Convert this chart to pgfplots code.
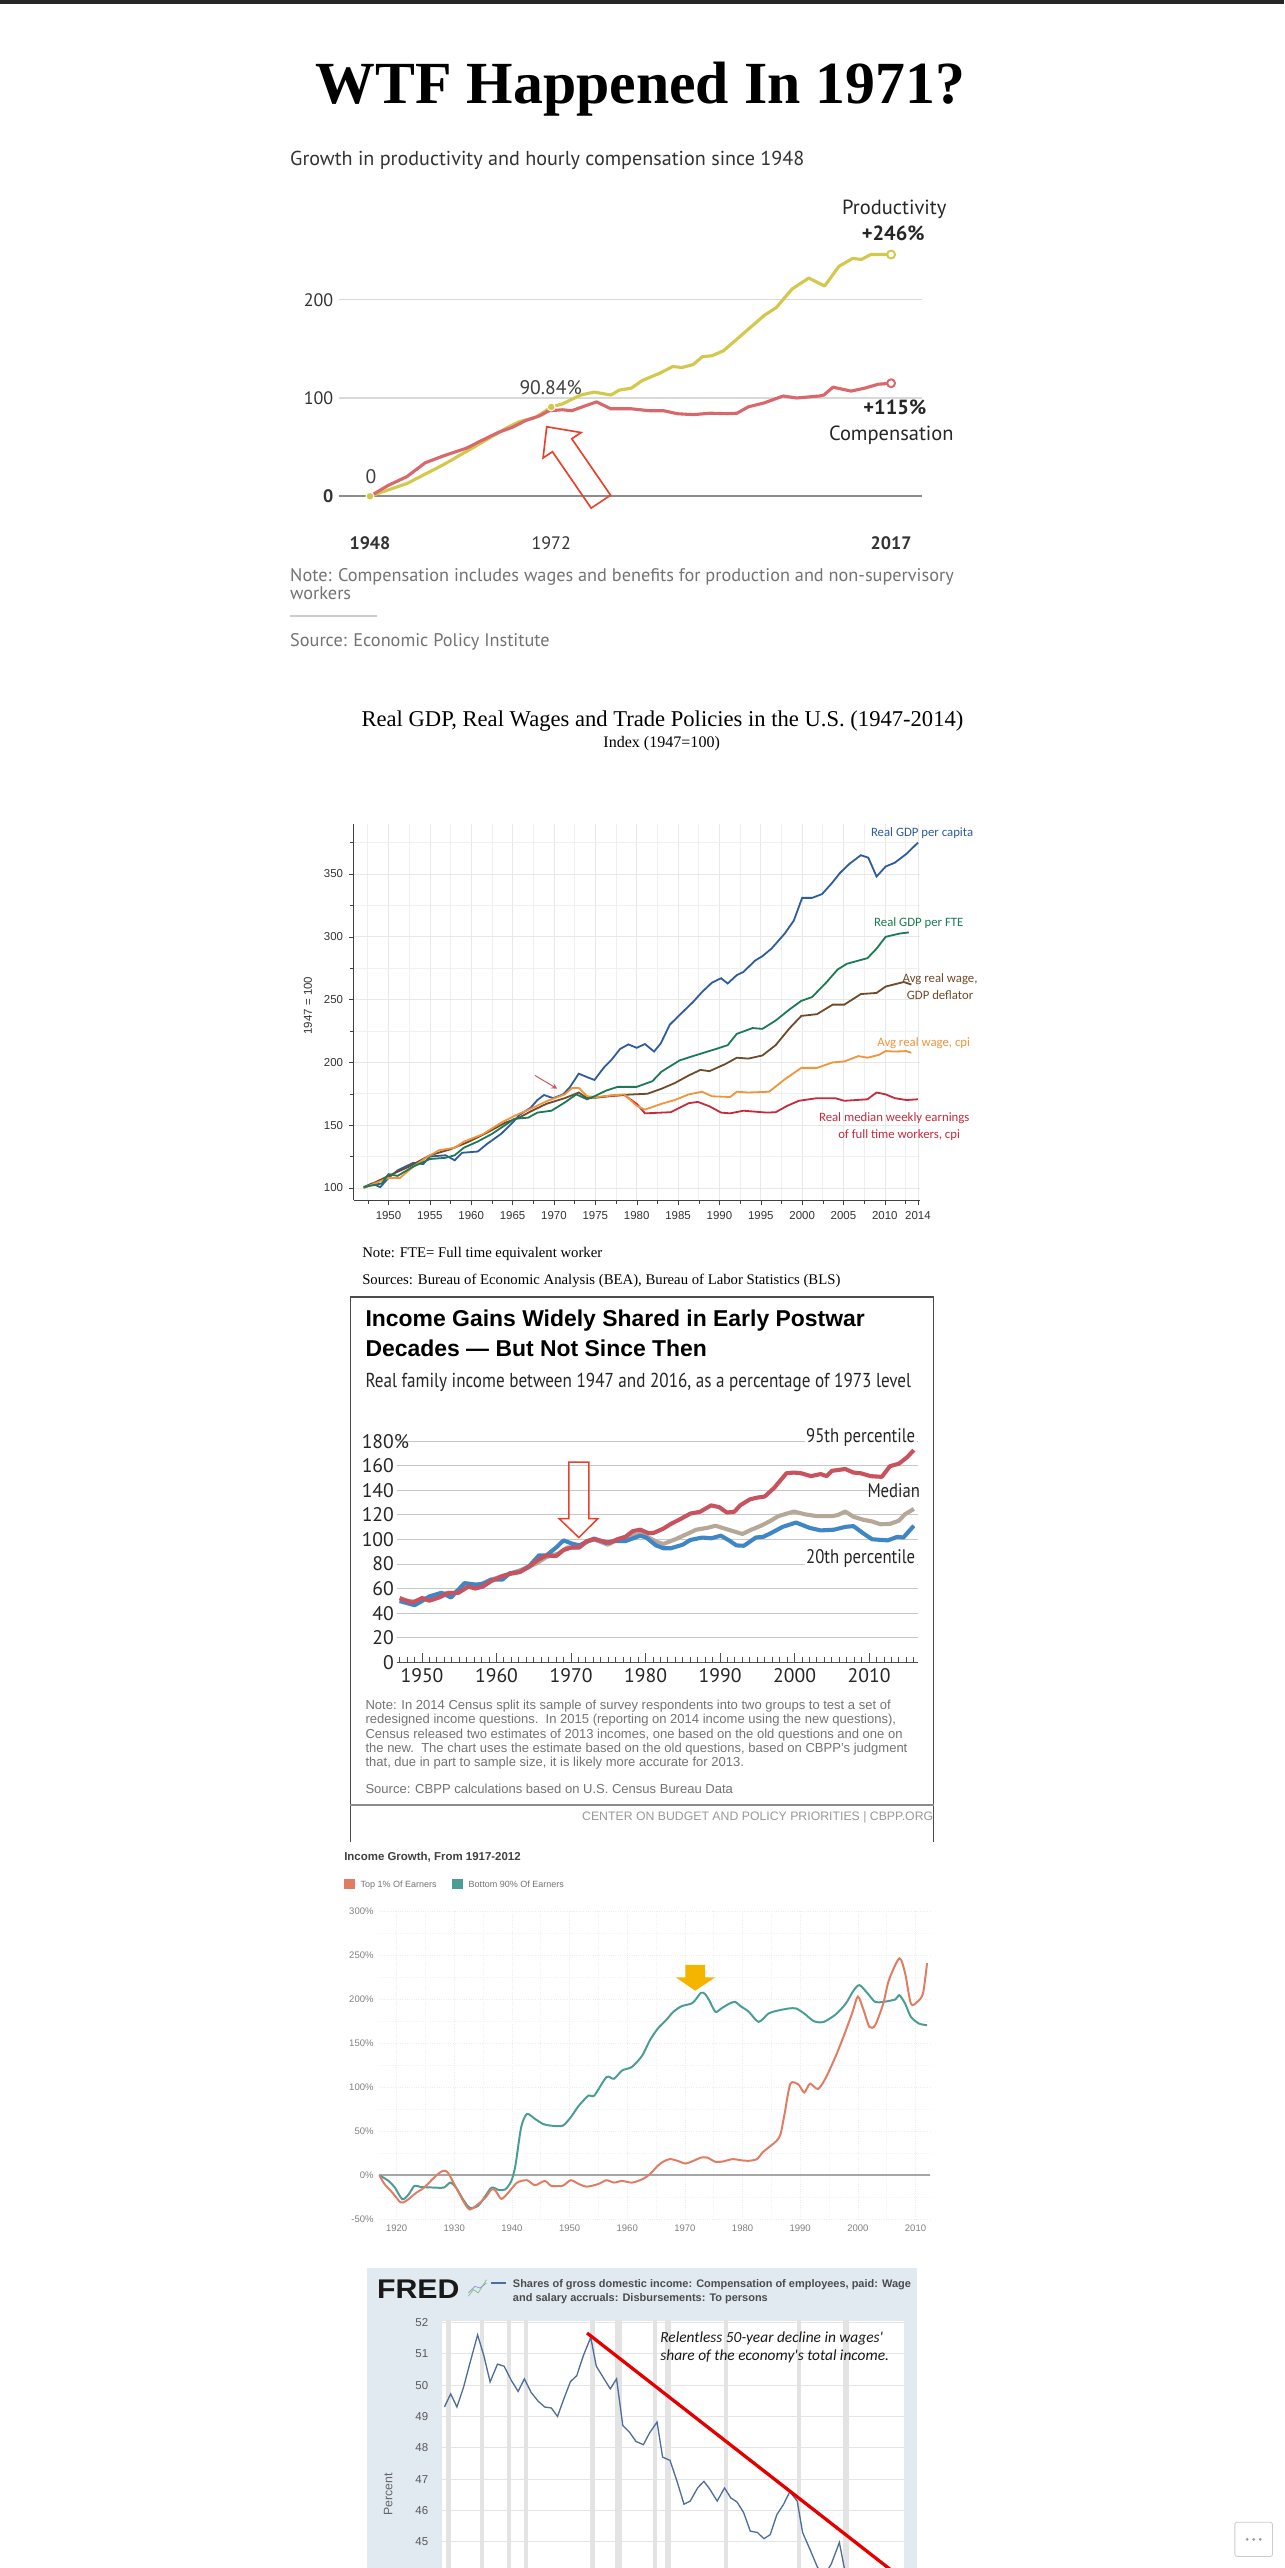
\documentclass[border=0pt]{standalone}
\usepackage{pgfplots}
\pgfplotsset{compat=1.18}
\usepackage{fontspec}
\setmainfont{Liberation Sans}
\newfontfamily\tms{Liberation Serif}
\newfontfamily\pts{PT Sans}
\newfontfamily\ptn[FakeStretch=0.85]{PT Sans}
\newfontfamily\carl{Carlito}
\newcommand\fs[1]{\fontsize{#1}{#1}\selectfont}
\pgfplotsset{/pgf/number format/1000 sep={}, /pgf/number format/assume math mode=true}

\definecolor{prod}{HTML}{D3C84B}
\definecolor{comp}{HTML}{D9686C}
\definecolor{gblue}{HTML}{2F5C9E}
\definecolor{ggreen}{HTML}{1C7A56}
\definecolor{gbrown}{HTML}{6E4B2A}
\definecolor{gorange}{HTML}{F2943C}
\definecolor{gred}{HTML}{C62A3D}
\definecolor{pred}{HTML}{C9525F}
\definecolor{ptan}{HTML}{B5A898}
\definecolor{pblue}{HTML}{3E86C6}
\definecolor{iorange}{HTML}{E17C63}
\definecolor{iteal}{HTML}{4A9D96}
\definecolor{fredline}{HTML}{4F6D9A}
\definecolor{fredbg}{HTML}{E1E9F1}
\definecolor{fredbar}{HTML}{E3E3E3}
\definecolor{arrowred}{HTML}{E8402A}
\definecolor{gold}{HTML}{F5B400}

\begin{document}
\begin{tikzpicture}
\fill[white] (0pt,0pt) rectangle (784pt,-1568pt);
\fill[black!85] (0pt,0pt) rectangle (784pt,-2.5pt);

% ---------- chart 1: productivity vs compensation
\begin{axis}[at={(207pt,-315pt)}, anchor=south west, scale only axis,
  width=356pt, height=168pt, xmin=1943.9, xmax=2021.1, ymin=-20, ymax=260,
  axis line style={draw=none}, major tick length=0pt, minor tick length=0pt,
  ytick={0,100,200}, yticklabels={\textbf{0},100,200},
  xtick={1948,1972,2017}, xticklabels={\textbf{1948},1972,\textbf{2017}},
  ymajorgrids, grid style={draw=black!15, line width=0.8pt},
  tick label style={font=\pts\fs{11}, text=black!80},
  xticklabel style={yshift=-9pt},
  clip=false]
\draw[black!45, line width=1pt] (axis cs:1943.9,0) -- (axis cs:2021.1,0);
\addplot[draw=prod, line width=1.9pt, line join=round] coordinates {
 (1948,0)(1952.9,13)(1957.7,32)(1962,51)(1966.2,70)(1967.8,76)(1969.9,80)(1972,90.84)
 (1973.5,94)(1975.9,103)(1977.7,106)(1979.9,103)(1981,108)(1982.6,110)(1984.1,118)
 (1986.3,125)(1988.1,132)(1989.3,131)(1990.8,134)(1992,142)(1993.3,143)(1994.8,148)
 (1996.6,160)(1998.4,172)(2000.2,184)(2001.8,192)(2003.9,211)(2006.1,222)(2008.2,214)
 (2010.1,234)(2011.9,242)(2013.1,241)(2014.3,246)(2015.5,246)(2017,246)};
\addplot[draw=comp, line width=1.9pt, line join=round] coordinates {
 (1948,0)(1950.4,11)(1952.9,20)(1955.3,34)(1957.7,41)(1960.8,49)(1962.6,56)(1965,65)
 (1966.8,70)(1968.6,77)(1970.5,82)(1971.7,87)(1973.5,88)(1974.7,87)(1976.5,92)(1978,96)
 (1979.9,89)(1982.6,89)(1985,87)(1986.9,87)(1988.7,84)(1990.8,83)(1993,84.5)(1995.4,84)
 (1996.6,84.5)(1998.1,91)(2000.2,95)(2002.7,102)(2004.5,100)(2007.5,102)(2008.1,103)
 (2009.3,111)(2011.7,107)(2013.5,110)(2015.3,114)(2017,115)};
\addplot[only marks, mark=*, mark size=2.4pt, mark options={fill=prod, draw=white, line width=0.6pt}]
 coordinates {(1948,0)(1972,90.84)};
\addplot[only marks, mark=*, mark size=2.4pt, mark options={fill=white, draw=prod, line width=1.2pt}]
 coordinates {(2017,246)};
\addplot[only marks, mark=*, mark size=2.4pt, mark options={fill=white, draw=comp, line width=1.2pt}]
 coordinates {(2017,115)};
\draw[arrowred, line width=1pt, line join=miter]
 (axis cs:1971.40,70.69) -- (axis cs:1975.96,64.83) -- (axis cs:1974.72,58.48)
 -- (axis cs:1979.86,1.07) -- (axis cs:1977.29,-12.10) -- (axis cs:1972.16,45.31)
 -- (axis cs:1970.92,38.97) -- cycle;
\end{axis}

% ---------- chart 2: real GDP and wages
\begin{axis}[at={(216pt,-733pt)}, anchor=south west, scale only axis,
  width=346pt, height=230pt, xmin=1945.8, xmax=2014.3, ymin=90, ymax=390,
  axis lines*=left, axis line style={black!75, line width=0.6pt},
  xtick={1950,1955,...,2010,2014}, ytick={100,150,...,350},
  minor xtick={1947.5,1952.5,...,2012.5}, minor ytick={125,175,...,375},
  grid=both, major grid style={black!9}, minor grid style={black!6},
  tick align=outside, major tick length=3pt, minor tick length=2pt,
  tick style={black!75},
  tick label style={font=\fs{7}, text=black!80},
  clip=false]
\addplot[draw=gred, line width=1.1pt] coordinates {
 (1975,172)(1978.5,174)(1980,167)(1981,159.4)(1984.1,160.3)(1986.3,167.5)(1987.4,168.5)
 (1988.8,165)(1990.2,160)(1991.3,159.4)(1992.9,161.5)(1995.7,160)(1996.8,160.3)(1998.2,165.4)
 (1999.6,169.4)(2001.8,171.5)(2004,171.5)(2005.1,169.4)(2006.5,170)(2007.9,170.6)(2009,176)
 (2010.1,174.5)(2011.2,171.5)(2012.6,170)(2014,170.6)};
\addplot[draw=gblue, line width=1.1pt] coordinates {
 (1947,100.6)(1948,103.6)(1949,100.6)(1950,108)(1951.1,114)(1953,120)(1954.2,119)(1955,125)
 (1956.9,126)(1958,122)(1958.9,128)(1960.8,129)(1961.9,135)(1963.6,143)(1965,152)(1965.8,158)
 (1967.2,164)(1968,170)(1968.8,174)(1969.9,171.5)(1971.1,174.5)(1971.9,180)(1973,191)
 (1974.1,188)(1974.9,186)(1976,195.6)(1976.9,201.6)(1978,210.7)(1979,214.3)(1980,211.6)
 (1981,214.6)(1982.1,208.6)(1982.9,215)(1984,230)(1985.2,237.8)(1986.8,248)(1987.9,256)
 (1989.1,263.5)(1990.2,267)(1991,262.8)(1992.1,269.5)(1992.9,272)(1994.3,281)(1995.2,284.6)
 (1996.3,290.6)(1997.9,302.6)(1999,313)(2000,331)(2001.2,331)(2002.4,334)(2003.5,342)
 (2004.6,351)(2005.7,358)(2007.1,365)(2008,363)(2009,348)(2010.1,356)(2011.2,359)
 (2012.6,366)(2014,375)};
\addplot[draw=gbrown, line width=1.1pt] coordinates {
 (1947,100)(1950,109.6)(1952.5,117)(1955,126)(1957.5,130.8)(1959.7,136.8)(1961.9,144)
 (1964.1,151.9)(1965.8,156)(1967.2,161)(1969.1,167)(1971.3,171.5)(1973,176)(1974,171.5)
 (1975.2,172)(1976.9,173.6)(1979.6,174.5)(1981.3,175)(1983,179)(1984.6,183.5)(1986.3,189.6)
 (1987.7,194)(1988.8,193)(1990.7,198.6)(1992.1,203.7)(1993.5,203)(1995.2,205.5)(1996.8,213.7)
 (1998.5,227.3)(1999.9,237)(2001.8,238.4)(2003.7,246)(2005.1,246)(2007.1,254.4)(2009,255.3)
 (2010.1,260.4)(2012.3,264)(2013.2,262)};
\addplot[draw=gorange, line width=1.1pt] coordinates {
 (1947,100)(1950,108)(1951.4,108)(1953,117)(1954.7,124.7)(1956.1,130)(1958,132)(1959.1,136.8)
 (1961.4,142.8)(1963.6,151.9)(1965.2,157.3)(1967.5,164)(1969.1,169)(1971.3,174.5)(1972.2,179.6)
 (1973,179.6)(1974,173)(1975.2,172.4)(1976.9,173.6)(1978.5,174.5)(1980,165.4)(1981,162.4)
 (1983,167)(1984.6,170)(1986.3,174.5)(1987.9,176.6)(1989.1,173)(1991.3,172.4)(1992.1,176.6)
 (1993.5,176)(1996,176.6)(1997.9,186.5)(1999.9,195.6)(2001.8,195.6)(2003.7,200)(2005.1,200.7)
 (2006.8,205)(2007.9,203.7)(2009.3,206)(2010.1,209)(2011.2,208.6)(2012.6,209)(2013.2,207.6)};
\addplot[draw=ggreen, line width=1.1pt] coordinates {
 (1947,100.6)(1949.2,103.6)(1950,111)(1951.1,109.6)(1953,117)(1955,123)(1956.9,124)(1958,126)
 (1959.1,132)(1960.8,137)(1962.5,143)(1964.1,150)(1965.2,155)(1966.9,156)(1968,160)
 (1969.7,161.5)(1971.3,168)(1972.7,174.5)(1974,170.6)(1974.9,173)(1976.3,177.5)(1977.7,180.5)
 (1980,180.5)(1981.9,185)(1983,192.6)(1985.2,201.6)(1986.8,205)(1989.6,210.7)(1991,213.7)
 (1992.1,222.7)(1994,227.3)(1995.2,226.7)(1996.8,233.3)(1998.5,242.3)(1999.9,249)(2001.2,252)
 (2002.9,263.5)(2004.3,274)(2005.4,278.5)(2007.9,283)(2009,290.6)(2010.1,300)(2011.8,302.6)
 (2012.9,303.5)};
\draw[-stealth, gred!80, line width=0.6pt] (axis cs:1967.7,189.6) -- (axis cs:1970.4,179);
\end{axis}

% ---------- chart 3: family income percentiles
\begin{axis}[at={(242.2pt,-1015pt)}, anchor=south west, scale only axis,
  width=318.5pt, height=135pt, xmin=1946.6, xmax=2016.6, ymin=0, ymax=180,
  axis line style={draw=none}, tick pos=left,
  ytick={0,20,...,180}, yticklabels={0,20,40,60,80,100,120,140,160,180\rlap{\%}},
  ytick style={draw=none},
  xtick={1950,1960,...,2010}, minor xtick={1947,1948,...,2016},
  xtick align=inside, major tick length=6pt, minor tick length=3pt,
  xtick style={black!70, line width=0.6pt},
  ymajorgrids, grid style={black!22, line width=0.6pt},
  yticklabel style={inner sep=1.5pt},
  tick label style={font=\pts\fs{12}, text=black!85},
  clip=false]
\draw[black!70, line width=0.8pt] (axis cs:1946.6,0) -- (axis cs:2016.6,0);
\addplot[draw=ptan, line width=2.5pt, line join=round] coordinates {
 (1947,50.8)(1949,49.4)(1950,51.7)(1952,53.7)(1953.3,56.6)(1954.1,55.7)(1955.7,62.1)(1957.2,61.8)
 (1959.3,67.4)(1961.3,71.1)(1963.4,75.5)(1965.4,80.7)(1966.7,85.7)(1968.3,88.6)(1969.5,93.5)
 (1971.1,93.8)(1972.1,98.1)(1973.1,100.2)(1974.9,95.8)(1976.2,99.6)(1977.8,103.1)(1979.3,104.5)
 (1980.4,101.6)(1981.6,97.9)(1982.4,96.4)(1984,100.2)(1985.8,105.1)(1986.8,108)(1988.3,109.5)
 (1989.4,111.2)(1990.6,108.9)(1993,104.5)(1994.2,108)(1995.5,111.2)(1996.8,115.3)(1997.8,119)
 (1999.9,122.8)(2001.4,120.5)(2003,119)(2005,119)(2005.8,119.9)(2006.8,122.8)(2007.9,118.5)
 (2009.2,116.1)(2010.4,114.7)(2011.5,112.4)(2012.8,112.7)(2014,115.3)(2014.8,120.5)(2016,124.9)};
\addplot[draw=pblue, line width=2.5pt, line join=round] coordinates {
 (1947,49.9)(1949,46.5)(1950,49.9)(1951,53.7)(1952.6,56.6)(1953.9,52.8)(1955.7,64.5)(1957.2,63.3)
 (1958.2,63.9)(1959.3,67.4)(1960.8,67.4)(1961.8,72.6)(1963.1,73.5)(1964.4,78.4)(1965.7,87.1)
 (1966.7,87.1)(1968,93.5)(1969,99.3)(1970.1,96.7)(1971.1,95.2)(1972.1,98.1)(1973.1,100.8)
 (1974.7,97.3)(1975.7,98.7)(1977.3,98.7)(1979.3,103.1)(1980.1,101.6)(1981.4,95.2)(1982.4,92.9)
 (1983.4,92.9)(1985,95.8)(1986,99.6)(1987.6,101.6)(1988.8,101)(1990.1,103.1)(1991.2,99.3)
 (1992.2,95.2)(1993.2,94.9)(1994.8,101.6)(1995.8,102.2)(1996.8,105.1)(1998.4,110.3)(2000.2,113.8)
 (2002,109.5)(2003.5,107.4)(2005.3,108)(2006.8,110.3)(2007.9,110.9)(2009.2,105.1)(2010.4,100.2)
 (2012.5,99.3)(2013.8,102.2)(2014.6,101.6)(2016,111.2)};
\addplot[draw=pred, line width=2.5pt, line join=round] coordinates {
 (1947,52.3)(1948.7,48.5)(1950,52.3)(1951,50.2)(1952.3,52.8)(1953.6,56.6)(1954.9,56.6)(1956.2,61.6)
 (1957.2,60.1)(1958.2,61.8)(1959.3,66.2)(1960.8,70.3)(1961.8,72)(1963.1,73.5)(1964.4,77.8)
 (1965.4,82.8)(1966.7,87.1)(1968,86.5)(1969,91.5)(1970.1,93.5)(1971.1,93.5)(1972.1,98.7)
 (1973.1,100.2)(1974.2,98.7)(1975.2,97.3)(1976.2,100.2)(1977.3,102.2)(1978.3,106.9)(1979.3,108)
 (1980.4,105.1)(1981.1,105.4)(1982.4,108.9)(1983.4,112.7)(1984.7,116.7)(1986,121.1)(1987.3,122.5)
 (1988.8,127.8)(1989.9,126.3)(1990.9,122)(1991.9,122.5)(1992.7,127.8)(1994,132.7)(1995,134.1)
 (1996,135)(1997.3,142.3)(1998.9,153.9)(1999.9,154.5)(2000.9,153.9)(2002.2,151.6)(2003.5,153.3)
 (2004.3,151.6)(2005,155.9)(2006.8,157.4)(2007.9,154.5)(2008.9,153.9)(2010.2,151.6)(2011.7,151)
 (2012.8,159.7)(2014,161.7)(2015.1,167)(2016,172.8)};
\draw[arrowred, line width=0.9pt]
 (axis cs:1969.7,163) -- (axis cs:1972.4,163) -- (axis cs:1972.4,117) -- (axis cs:1973.6,117)
 -- (axis cs:1971.05,101.6) -- (axis cs:1968.4,117) -- (axis cs:1969.7,117) -- cycle;
\end{axis}

% ---------- chart 4: top 1% vs bottom 90%
\begin{axis}[at={(231.6pt,-1355pt)}, anchor=south west, scale only axis,
  width=336.2pt, height=188pt, xmin=1917, xmax=2012.5, ymin=-50, ymax=300,
  axis line style={draw=none}, major tick length=0pt, minor tick length=0pt,
  xtick={1920,1930,...,2010}, ytick={-50,0,...,300},
  yticklabels={-50\%,0\%,50\%,100\%,150\%,200\%,250\%,300\%},
  minor xtick={1915,1925,...,2015}, minor ytick={-25,25,...,275},
  grid=both, major grid style={black!7, densely dotted}, minor grid style={black!5, densely dotted},
  tick label style={font=\fs{5.8}, text=black!50},
  clip=false]
\draw[black!35, line width=0.9pt] (axis cs:1917,0) -- (axis cs:2012.5,0);
\addplot[draw=iteal, line width=1.2pt, smooth, tension=0.45] coordinates {
 (1917,0)(1918.6,-6.5)(1919.7,-14)(1921,-27.4)(1922.1,-21.7)(1923.1,-12)(1924.1,-13.3)(1926.2,-14)
 (1928.2,-14)(1929.3,-8.4)(1930.3,-14)(1931.7,-29.3)(1932.7,-37)(1934.1,-35)(1935.4,-23.6)
 (1936.5,-14)(1937.8,-17)(1938.9,-16)(1939.9,-6.5)(1940.6,10.7)(1941.6,54.4)(1942.6,69.6)
 (1944,64)(1945.4,58.2)(1946.8,56.3)(1948.8,56.3)(1950.2,65.8)(1951.6,79)(1953.3,90.6)
 (1954.3,90.6)(1956.4,111.5)(1957.7,109.6)(1959.1,119)(1960.8,123)(1962.6,136)(1963.9,153)
 (1965.3,166.7)(1966.7,176)(1968,185.7)(1969.4,192)(1971.1,195)(1971.8,199)(1972.8,207.4)
 (1973.5,206)(1974.2,199)(1975.3,185.7)(1976.3,189.5)(1977.7,195)(1978.7,197)(1979.7,192)
 (1981.1,185.7)(1982.8,174.3)(1984.5,183.8)(1985.9,186.8)(1988,189.5)(1989.3,189.5)(1990.7,183.8)
 (1992.4,175)(1994.1,174.3)(1996.2,183)(1997.9,195)(1999.3,210.4)(2000.3,216)(2001.7,206.6)
 (2003,197)(2004.4,197)(2006.5,199.8)(2007.2,204.7)(2008.2,195)(2009.2,180)(2010.6,172.4)
 (2012,170.5)};
\addplot[draw=iorange, line width=1.2pt, smooth, tension=0.45] coordinates {
 (1917,0)(1917.9,-10)(1919.3,-20)(1920.7,-31)(1921.7,-29)(1923.4,-20)(1924.8,-14)(1926.2,-4.6)
 (1927.5,3)(1928.2,5)(1928.9,3)(1930.3,-14)(1931.7,-31)(1932.7,-39)(1934.1,-33)(1935.4,-25.5)
 (1936.5,-16)(1937.2,-18)(1938.2,-27)(1939.6,-18)(1940.9,-8.4)(1942.6,-5.7)(1944,-11.4)
 (1945.7,-6.5)(1946.8,-12)(1948.8,-12)(1950.2,-5.7)(1951.6,-10)(1953,-13)(1955,-10)(1956.4,-5.7)
 (1957.7,-8.4)(1959.1,-6.5)(1960.8,-8.4)(1962.6,-4.6)(1963.9,1)(1965.3,10.7)(1966.3,15.6)
 (1967.4,18.3)(1968.7,16.4)(1970.1,13.3)(1971.5,16.4)(1972.8,20)(1973.9,20)(1975.3,15.2)
 (1976.6,15.6)(1978.3,18.3)(1979.7,17)(1981.1,16.4)(1982.5,18.3)(1983.5,26)(1984.9,33.5)
 (1985.9,39)(1986.6,47)(1987.3,70)(1988.3,104)(1989.7,103)(1990.7,94)(1991.7,104)(1993.1,98)
 (1994.5,111.5)(1996.2,136)(1997.6,159)(1999,184)(2000,203)(2001,187.6)(2002,168.6)(2003,170.5)
 (2004.4,195)(2005.4,222)(2007.2,246.5)(2008.2,229.5)(2009.2,195)(2010.3,197)(2011.3,206.6)
 (2012,241)};
\fill[gold] (axis cs:1970.1,239) -- (axis cs:1973.5,239) -- (axis cs:1973.5,225) -- (axis cs:1975.3,225)
 -- (axis cs:1971.8,209.7) -- (axis cs:1968.4,225) -- (axis cs:1970.1,225) -- cycle;
\end{axis}

% ---------- chart 5: FRED wage share
\fill[fredbg] (224pt,-1385pt) rectangle (560pt,-1568pt);
\begin{axis}[at={(270pt,-1568pt)}, anchor=south west, scale only axis,
  width=282pt, height=150.96pt, xmin=1948.36, xmax=2017.36, ymin=44.164, ymax=52.05,
  axis line style={draw=none}, major tick length=0pt, minor tick length=0pt,
  axis background/.style={fill=white},
  xtick=\empty, ytick={45,...,52}, ymajorgrids, grid style={black!10, line width=0.6pt},
  tick label style={font=\fs{7}, text=black!65}, yticklabel style={xshift=-5pt},
  axis on top=false]
\addplot[fill=fredbar, draw=none] coordinates {(1948.9,53)(1949.7,53)} \closedcycle;
\addplot[fill=fredbar, draw=none] coordinates {(1954.0,53)(1954.6,53)} \closedcycle;
\addplot[fill=fredbar, draw=none] coordinates {(1958.0,53)(1958.6,53)} \closedcycle;
\addplot[fill=fredbar, draw=none] coordinates {(1960.6,53)(1961.2,53)} \closedcycle;
\addplot[fill=fredbar, draw=none] coordinates {(1970.4,53)(1971.2,53)} \closedcycle;
\addplot[fill=fredbar, draw=none] coordinates {(1974.2,53)(1975.2,53)} \closedcycle;
\addplot[fill=fredbar, draw=none] coordinates {(1979.9,53)(1980.4,53)} \closedcycle;
\addplot[fill=fredbar, draw=none] coordinates {(1981.6,53)(1982.6,53)} \closedcycle;
\addplot[fill=fredbar, draw=none] coordinates {(1990.4,53)(1991.0,53)} \closedcycle;
\addplot[fill=fredbar, draw=none] coordinates {(2001.3,53)(2001.9,53)} \closedcycle;
\addplot[fill=fredbar, draw=none] coordinates {(2008.2,53)(2009.1,53)} \closedcycle;
\addplot[draw=fredline, line width=0.8pt] coordinates {
 (1948.69,49.30)(1949.63,49.72)(1950.56,49.30)(1951.55,49.93)(1952.54,50.73)(1953.65,51.60)
 (1954.58,50.94)(1955.52,50.10)(1956.62,50.67)(1957.61,50.60)(1958.71,50.14)(1959.70,49.80)
 (1960.64,50.20)(1961.63,49.77)(1962.68,49.49)(1963.67,49.30)(1964.66,49.27)(1965.59,49.00)
 (1966.53,49.56)(1967.52,50.11)(1968.46,50.30)(1969.45,50.94)(1970.55,51.52)(1971.38,50.60)
 (1972.48,50.22)(1973.47,49.88)(1974.41,50.20)(1975.34,48.71)(1976.33,48.50)(1977.32,48.20)
 (1978.42,48.10)(1979.36,48.48)(1980.46,48.82)(1981.29,47.70)(1982.39,47.60)(1983.49,46.90)
 (1984.48,46.20)(1985.42,46.30)(1986.52,46.72)(1987.46,46.93)(1988.34,46.68)(1989.44,46.30)
 (1990.54,46.72)(1991.48,46.40)(1992.41,46.27)(1993.40,45.93)(1994.39,45.34)(1995.44,45.30)
 (1996.43,45.10)(1997.37,45.23)(1998.36,45.87)(1999.35,46.19)(2000.29,46.60)(2001.4,46.3)
 (2002.2,45.3)(2003.3,44.76)(2004.4,44.2)(2005.4,43.9)(2006.5,44.3)(2007.7,44.98)(2008.4,44.2)
 (2009.4,43.6)};
\addplot[draw=red!90!black, line width=2pt] coordinates {(1970.0,51.66)(2015.3,44.12)};
\end{axis}

% ---------- text and decorations
\begin{scope}[x=1pt,y=-1pt]
\node[anchor=base, inner sep=0] at (391,63) {\tms\bfseries\fs{36.5}WTF Happened In 1971?};

% chart 1 text
\begin{scope}[every node/.style={inner sep=0, anchor=base west}]
\node[text=black!80] at (177,101) {\pts\fs{12.3}Growth in productivity and hourly compensation since 1948};
\node[text=black!85] at (514,131) {\pts\fs{12.5}Productivity};
\node[text=black!85] at (526,147) {\pts\bfseries\fs{12.5}+246\%};
\node[text=black!75] at (317,241) {\pts\fs{12}90.84\%};
\node[text=black!75] at (223,295) {\pts\fs{12}0};
\node[text=black!85] at (527,253) {\pts\bfseries\fs{12.5}+115\%};
\node[text=black!85] at (506,269) {\pts\fs{12.5}Compensation};
\node[text=black!55] at (177,355) {\pts\fs{11.15}Note: Compensation includes wages and benefits for production and non-supervisory};
\node[text=black!55] at (177,366) {\pts\fs{11.15}workers};
\node[text=black!55] at (177,395) {\pts\fs{11.15}Source: Economic Policy Institute};
\end{scope}
\draw[black!20, line width=1.2pt] (177,376) -- (230,376);

% chart 2 text
\node[anchor=base, inner sep=0] at (404.5,443.5) {\tms\fs{13.8}Real GDP, Real Wages and Trade Policies in the U.S. (1947-2014)};
\node[anchor=base, inner sep=0] at (404,456.5) {\tms\fs{9.8}Index (1947=100)};
\node[rotate=90, inner sep=0, text=black!80] at (188,614) {\fs{7}1947 = 100};
\begin{scope}[every node/.style={inner sep=0, anchor=base}]
\node[text=gblue] at (563,511) {\carl\fs{7.8}Real GDP per capita};
\node[text=ggreen] at (561,566) {\carl\fs{7.8}Real GDP per FTE};
\node[text=gbrown] at (574,600) {\carl\fs{7.8}Avg real wage,};
\node[text=gbrown] at (574,610) {\carl\fs{7.8}GDP deflator};
\node[text=gorange] at (564,639) {\carl\fs{7.8}Avg real wage, cpi};
\node[text=gred] at (546,685) {\carl\fs{7.8}Real median weekly earnings};
\node[text=gred] at (549,695) {\carl\fs{7.8}of full time workers, cpi};
\end{scope}
\node[anchor=base west, inner sep=0] at (221,768) {\tms\fs{9}Note: FTE= Full time equivalent worker};
\node[anchor=base west, inner sep=0] at (221,784) {\tms\fs{9}Sources: Bureau of Economic Analysis (BEA), Bureau of Labor Statistics (BLS)};

% chart 3 frame and text
\draw[black!70, line width=0.8pt] (214,1125) -- (214,792) -- (570,792) -- (570,1125);
\draw[black!45, line width=1.3pt] (214,1102) -- (570,1102);
\begin{scope}[every node/.style={inner sep=0, anchor=base west}]
\node at (223,810) {\bfseries\fs{14}Income Gains Widely Shared in Early Postwar};
\node at (223,828) {\bfseries\fs{14}Decades --- But Not Since Then};
\node[text=black!85] at (223,847) {\ptn\fs{12.3}Real family income between 1947 and 2016, as a percentage of 1973 level};
\node[text=black!55] at (223,1044) {\fs{7.95}Note: In 2014 Census split its sample of survey respondents into two groups to test a set of};
\node[text=black!55] at (223,1052.6) {\fs{7.95}redesigned income questions.\ \ In 2015 (reporting on 2014 income using the new questions),};
\node[text=black!55] at (223,1061.2) {\fs{7.95}Census released two estimates of 2013 incomes, one based on the old questions and one on};
\node[text=black!55] at (223,1069.8) {\fs{7.95}the new.\ \ The chart uses the estimate based on the old questions, based on CBPP's judgment};
\node[text=black!55] at (223,1078.4) {\fs{7.95}that, due in part to sample size, it is likely more accurate for 2013.};
\node[text=black!55] at (223,1095) {\fs{7.95}Source: CBPP calculations based on U.S. Census Bureau Data};
\end{scope}
\node[anchor=base east, inner sep=0, text=black!40] at (570,1111.5) {\fs{7.5}CENTER ON BUDGET AND POLICY PRIORITIES | CBPP.ORG};
\node[anchor=base east, fill=white, inner xsep=1pt, inner ysep=1.5pt, text=black!85] at (560,880.5) {\ptn\fs{12}95th percentile};
\node[anchor=base east, inner sep=0, text=black!85] at (562,914.5) {\ptn\fs{12}Median};
\node[anchor=base east, fill=white, inner xsep=1pt, inner ysep=1.5pt, text=black!85] at (560,954.5) {\ptn\fs{12}20th percentile};

% chart 4 text
\node[anchor=base west, inner sep=0, text=black!75] at (210,1136) {\bfseries\fs{7}Income Growth, From 1917-2012};
\fill[iorange] (210,1147) rectangle (216.5,1153.5);
\node[anchor=base west, inner sep=0, text=black!55] at (220,1152.5) {\fs{5.5}Top 1\% Of Earners};
\fill[iteal] (276,1147) rectangle (282.5,1153.5);
\node[anchor=base west, inner sep=0, text=black!55] at (286,1152.5) {\fs{5.5}Bottom 90\% Of Earners};

% chart 5 text
\node[anchor=base west, inner sep=0, text=black!90] at (230,1403.5) {\scalebox{1.12}[1]{\bfseries\fs{16.5}FRED}};
\draw[green!40!gray!70, line width=0.5pt] (286,1402) -- (289,1398) -- (292,1400) -- (297,1392);
\draw[blue!30!gray!60, line width=0.5pt] (286,1400) -- (290,1396) -- (293,1397) -- (297,1394);
\draw[fredline, line width=0.9pt] (300,1394) -- (309,1394);
\node[anchor=base west, inner sep=0, text=black!70] at (313,1396.5) {\bfseries\fs{6.7}Shares of gross domestic income: Compensation of employees, paid: Wage};
\node[anchor=base west, inner sep=0, text=black!70] at (313,1405) {\bfseries\fs{6.7}and salary accruals: Disbursements: To persons};
\node[rotate=90, inner sep=0, text=black!60] at (237,1523) {\fs{7.5}Percent};
\node[anchor=base west, inner sep=0, text=black!90] at (403,1430) {\carl\itshape\fs{9.4}Relentless 50-year decline in wages'};
\node[anchor=base west, inner sep=0, text=black!90] at (403,1441) {\carl\itshape\fs{9.4}share of the economy's total income.};

% corner button
\draw[black!20, line width=0.5pt, rounded corners=1.5pt] (754,1540) rectangle (777,1561);
\foreach \dx in {761.5,765.5,769.5} \fill[black!40] (\dx,1550.5) circle (0.9);
\end{scope}

\pgfresetboundingbox
\path[use as bounding box] (0pt,0pt) rectangle (784pt,-1568pt);
\end{tikzpicture}
\end{document}
